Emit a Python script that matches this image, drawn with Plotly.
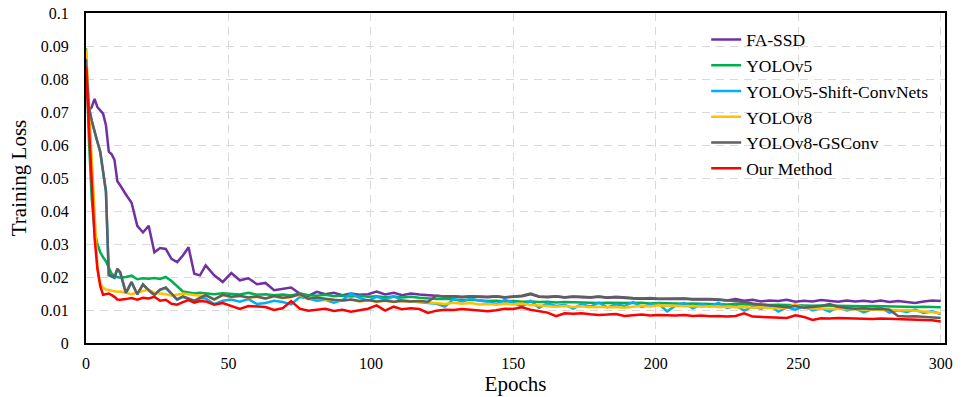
import plotly.graph_objects as go

# Epoch grid (x values)
epochs = list(range(0, 12)) + list(range(12, 41, 2)) + list(range(42, 301, 3))

names = ["FA-SSD", "YOLOv5", "YOLOv5-Shift-ConvNets", "YOLOv8", "YOLOv8-GSConv", "Our Method"]
colors = ["#7030A0", "#00B050", "#00B0F0", "#FFC000", "#5F5F5F", "#FF0000"]

fa_ssd = [
    0.0800, 0.0705, 0.0715, 0.0740, 0.0715, 0.0705, 0.0695, 0.0660, 0.0580, 0.0572, 0.0555, 0.0490,
    0.0478, 0.0450, 0.0425, 0.0355, 0.0335, 0.0355, 0.0275, 0.0288, 0.0285, 0.0255, 0.0245, 0.0265, 0.0290, 0.0210, 0.0205,
    0.0235, 0.0205, 0.0185, 0.0212, 0.0190, 0.0196, 0.0178, 0.0182, 0.0160, 0.0163,
    0.0168, 0.0150, 0.0143, 0.0155, 0.0148, 0.0152, 0.0145, 0.0150, 0.0146, 0.0148,
    0.0156, 0.0147, 0.0152, 0.0145, 0.0150, 0.0147, 0.0145, 0.0143, 0.0141, 0.0142,
    0.0139, 0.0141, 0.0140, 0.0139, 0.0141, 0.0138, 0.0140, 0.0142, 0.0148, 0.0140,
    0.0139, 0.0141, 0.0138, 0.0140, 0.0139, 0.0138, 0.0140, 0.0137, 0.0139, 0.0136,
    0.0135, 0.0134, 0.0135, 0.0133, 0.0134, 0.0133, 0.0134, 0.0132, 0.0133, 0.0132,
    0.0131, 0.0129, 0.0133, 0.0128, 0.0131, 0.0126, 0.0129, 0.0127, 0.0131, 0.0125,
    0.0128, 0.0126, 0.0130, 0.0127, 0.0125, 0.0129, 0.0126, 0.0128, 0.0125, 0.0129,
    0.0124, 0.0127, 0.0125, 0.0121, 0.0126, 0.0129, 0.0127,
]

yolov5 = [
    0.0893, 0.0620, 0.0440, 0.0340, 0.0300, 0.0275, 0.0260, 0.0248, 0.0228, 0.0210, 0.0202, 0.0200,
    0.0198, 0.0200, 0.0204, 0.0193, 0.0196, 0.0195, 0.0197, 0.0194, 0.0200, 0.0188, 0.0172, 0.0156, 0.0153, 0.0150, 0.0152,
    0.0150, 0.0148, 0.0151, 0.0149, 0.0147, 0.0152, 0.0146, 0.0148, 0.0145, 0.0147,
    0.0144, 0.0150, 0.0145, 0.0143, 0.0146, 0.0142, 0.0144, 0.0141, 0.0143, 0.0140,
    0.0142, 0.0139, 0.0141, 0.0138, 0.0140, 0.0137, 0.0135, 0.0133, 0.0134, 0.0131,
    0.0130, 0.0131, 0.0128, 0.0127, 0.0128, 0.0126, 0.0127, 0.0125, 0.0126, 0.0124,
    0.0125, 0.0123, 0.0124, 0.0123, 0.0122, 0.0123, 0.0121, 0.0122, 0.0121, 0.0120,
    0.0121, 0.0122, 0.0120, 0.0121, 0.0120, 0.0121, 0.0119, 0.0120, 0.0119, 0.0118,
    0.0119, 0.0117, 0.0118, 0.0117, 0.0116, 0.0117, 0.0115, 0.0116, 0.0115, 0.0114,
    0.0115, 0.0113, 0.0114, 0.0113, 0.0112, 0.0113, 0.0112, 0.0111, 0.0112, 0.0111,
    0.0110, 0.0111, 0.0110, 0.0109, 0.0110, 0.0109, 0.0108,
]

shift_convnets = [
    0.0855, 0.0712, 0.0672, 0.0638, 0.0608, 0.0578, 0.0518, 0.0458, 0.0205, 0.0201, 0.0197, 0.0223,
    0.0213, 0.0151, 0.0184, 0.0147, 0.0177, 0.0159, 0.0145, 0.0161, 0.0167, 0.0149, 0.0131, 0.0140, 0.0134, 0.0127, 0.0136,
    0.0135, 0.0118, 0.0128, 0.0132, 0.0125, 0.0133, 0.0118, 0.0121, 0.0128, 0.0124,
    0.0117, 0.0139, 0.0135, 0.0128, 0.0131, 0.0122, 0.0130, 0.0150, 0.0137, 0.0128,
    0.0140, 0.0132, 0.0141, 0.0129, 0.0127, 0.0124, 0.0121, 0.0119, 0.0110, 0.0133,
    0.0126, 0.0134, 0.0129, 0.0125, 0.0118, 0.0131, 0.0122, 0.0110, 0.0128, 0.0107,
    0.0120, 0.0112, 0.0116, 0.0104, 0.0118, 0.0110, 0.0122, 0.0108, 0.0117, 0.0112,
    0.0124, 0.0109, 0.0116, 0.0119, 0.0096, 0.0114, 0.0121, 0.0105, 0.0117, 0.0110,
    0.0122, 0.0106, 0.0113, 0.0098, 0.0110, 0.0104, 0.0114, 0.0095, 0.0108, 0.0101,
    0.0112, 0.0099, 0.0106, 0.0095, 0.0110, 0.0099, 0.0104, 0.0093, 0.0103, 0.0106,
    0.0092, 0.0099, 0.0094, 0.0101, 0.0091, 0.0096, 0.0088,
]

yolov8 = [
    0.0890, 0.0720, 0.0550, 0.0360, 0.0230, 0.0180, 0.0168, 0.0162, 0.0160, 0.0157, 0.0156, 0.0155,
    0.0156, 0.0152, 0.0148, 0.0153, 0.0157, 0.0162, 0.0152, 0.0150, 0.0148, 0.0143, 0.0147, 0.0150, 0.0148, 0.0146, 0.0143,
    0.0144, 0.0131, 0.0145, 0.0139, 0.0142, 0.0137, 0.0140, 0.0134, 0.0141, 0.0136,
    0.0139, 0.0146, 0.0133, 0.0136, 0.0132, 0.0130, 0.0128, 0.0131, 0.0126, 0.0129,
    0.0125, 0.0128, 0.0124, 0.0127, 0.0125, 0.0126, 0.0124, 0.0121, 0.0118, 0.0122,
    0.0119, 0.0121, 0.0117, 0.0118, 0.0116, 0.0119, 0.0117, 0.0120, 0.0115, 0.0114,
    0.0112, 0.0110, 0.0112, 0.0109, 0.0111, 0.0108, 0.0110, 0.0108, 0.0109, 0.0107,
    0.0110, 0.0113, 0.0111, 0.0114, 0.0112, 0.0113, 0.0111, 0.0112, 0.0110, 0.0111,
    0.0109, 0.0110, 0.0108, 0.0109, 0.0107, 0.0108, 0.0106, 0.0105, 0.0107, 0.0118,
    0.0106, 0.0104, 0.0105, 0.0103, 0.0104, 0.0102, 0.0103, 0.0101, 0.0102, 0.0100,
    0.0101, 0.0099, 0.0100, 0.0098, 0.0097, 0.0093, 0.0090,
]

gsconv = [
    0.0860, 0.0715, 0.0675, 0.0640, 0.0610, 0.0580, 0.0520, 0.0460, 0.0207, 0.0203, 0.0199, 0.0225,
    0.0215, 0.0152, 0.0185, 0.0148, 0.0178, 0.0160, 0.0146, 0.0162, 0.0168, 0.0150, 0.0132, 0.0141, 0.0135, 0.0128, 0.0137,
    0.0145, 0.0132, 0.0146, 0.0140, 0.0143, 0.0138, 0.0141, 0.0135, 0.0142, 0.0137,
    0.0140, 0.0148, 0.0134, 0.0137, 0.0133, 0.0131, 0.0129, 0.0132, 0.0127, 0.0130,
    0.0126, 0.0129, 0.0125, 0.0128, 0.0126, 0.0127, 0.0125, 0.0143, 0.0141, 0.0142,
    0.0140, 0.0142, 0.0141, 0.0140, 0.0142, 0.0139, 0.0141, 0.0143, 0.0150, 0.0141,
    0.0140, 0.0142, 0.0139, 0.0141, 0.0140, 0.0139, 0.0141, 0.0138, 0.0140, 0.0137,
    0.0136, 0.0135, 0.0136, 0.0134, 0.0135, 0.0134, 0.0135, 0.0133, 0.0134, 0.0133,
    0.0132, 0.0130, 0.0127, 0.0124, 0.0120, 0.0117, 0.0113, 0.0110, 0.0108, 0.0112,
    0.0107, 0.0109, 0.0112, 0.0118, 0.0110, 0.0106, 0.0104, 0.0105, 0.0103, 0.0104,
    0.0101, 0.0082, 0.0080, 0.0081, 0.0079, 0.0078, 0.0076,
]

our_method = [
    0.0835, 0.0660, 0.0460, 0.0320, 0.0225, 0.0172, 0.0146, 0.0148, 0.0150, 0.0145, 0.0140, 0.0132,
    0.0131, 0.0133, 0.0136, 0.0131, 0.0137, 0.0135, 0.0140, 0.0128, 0.0131, 0.0119, 0.0116, 0.0124, 0.0130, 0.0122, 0.0127,
    0.0126, 0.0116, 0.0121, 0.0113, 0.0103, 0.0112, 0.0111, 0.0109, 0.0100, 0.0105,
    0.0127, 0.0104, 0.0098, 0.0101, 0.0104, 0.0097, 0.0101, 0.0095, 0.0100, 0.0104,
    0.0114, 0.0098, 0.0110, 0.0102, 0.0105, 0.0103, 0.0091, 0.0098, 0.0101, 0.0100,
    0.0103, 0.0101, 0.0098, 0.0096, 0.0099, 0.0104, 0.0103, 0.0108, 0.0101, 0.0097,
    0.0092, 0.0081, 0.0090, 0.0089, 0.0090, 0.0087, 0.0085, 0.0086, 0.0088, 0.0082,
    0.0084, 0.0086, 0.0083, 0.0085, 0.0084, 0.0083, 0.0085, 0.0082, 0.0083, 0.0081,
    0.0082, 0.0080, 0.0082, 0.0090, 0.0080, 0.0079, 0.0080, 0.0078, 0.0076, 0.0084,
    0.0079, 0.0070, 0.0075, 0.0074, 0.0076, 0.0075, 0.0074, 0.0075, 0.0073, 0.0074,
    0.0073, 0.0072, 0.0073, 0.0072, 0.0071, 0.0069, 0.0065,
]

series = [fa_ssd, yolov5, shift_convnets, yolov8, gsconv, our_method]

x_ticks = [0, 50, 100, 150, 200, 250, 300]
y_ticks = [0, 0.01, 0.02, 0.03, 0.04, 0.05, 0.06, 0.07, 0.08, 0.09, 0.1]
y_tick_labels = ["0", "0.01", "0.02", "0.03", "0.04", "0.05", "0.06", "0.07", "0.08", "0.09", "0.1"]

FONT = "Liberation Serif, Times New Roman, serif"

fig = go.Figure()
for i, (name, vals, col) in enumerate(zip(names, series, colors)):
    fig.add_trace(go.Scatter(
        x=epochs, y=vals, mode="lines", name=name,
        line=dict(color=col, width=2.5),
    ))

fig.update_layout(
    width=962, height=397,
    margin=dict(l=86, r=17, t=13, b=54, autoexpand=False),
    paper_bgcolor="white", plot_bgcolor="white",
    font=dict(family=FONT, color="black", size=16),
    legend=dict(
        x=0.722, y=0.974, xanchor="left", yanchor="top",
        font=dict(family=FONT, size=17.5, color="black"),
        bgcolor="rgba(0,0,0,0)", borderwidth=0,
        tracegroupgap=0,
    ),
    showlegend=True,
)
fig.update_xaxes(
    range=[0, 301.5], tickvals=x_ticks, ticktext=[str(v) for v in x_ticks],
    showgrid=True, gridcolor="#D9D9D9", gridwidth=1.3, griddash="8px,6px",
    showline=True, linecolor="black", linewidth=2, mirror=True,
    ticks="outside", ticklen=5, tickcolor="rgba(0,0,0,0)",
    tickfont=dict(family=FONT, size=16, color="black"),
    title=dict(text="Epochs", font=dict(family=FONT, size=21, color="black"), standoff=3),
    zeroline=False, automargin=False,
)
fig.update_yaxes(
    range=[0, 0.1], tickvals=y_ticks, ticktext=y_tick_labels,
    showgrid=True, gridcolor="#D9D9D9", gridwidth=1.3, griddash="8px,6px",
    showline=True, linecolor="black", linewidth=2, mirror=True,
    ticks="outside", ticklen=12, tickcolor="rgba(0,0,0,0)",
    tickfont=dict(family=FONT, size=16, color="black"),
    title=dict(text="Training Loss", font=dict(family=FONT, size=21, color="black"), standoff=8),
    zeroline=False, automargin=False,
)

fig.write_html("out.html")
